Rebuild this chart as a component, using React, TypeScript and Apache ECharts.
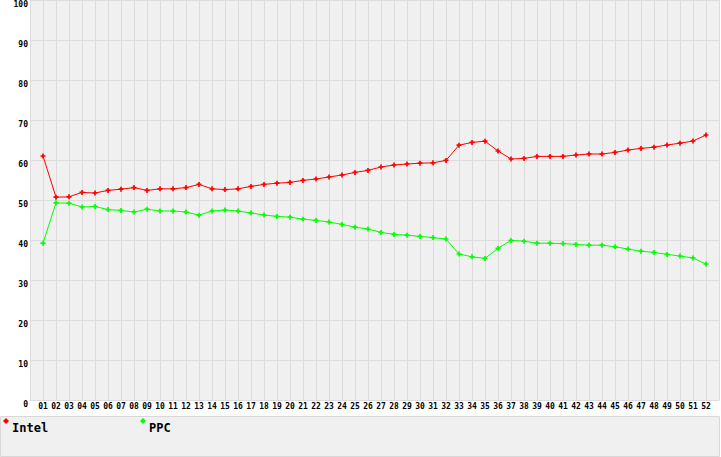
import * as echarts from 'echarts';
import { useEffect, useRef } from 'react';

const weeks = [
  '01', '02', '03', '04', '05', '06', '07', '08', '09', '10',
  '11', '12', '13', '14', '15', '16', '17', '18', '19', '20',
  '21', '22', '23', '24', '25', '26', '27', '28', '29', '30',
  '31', '32', '33', '34', '35', '36', '37', '38', '39', '40',
  '41', '42', '43', '44', '45', '46', '47', '48', '49', '50',
  '51', '52',
];

const intel = [
  61, 50.7, 50.8, 51.9, 51.75, 52.4, 52.7, 53.1, 52.4, 52.8,
  52.8, 53.1, 53.9, 52.8, 52.6, 52.8, 53.4, 53.9, 54.2, 54.4,
  54.9, 55.25, 55.75, 56.25, 56.9, 57.4, 58.25, 58.75, 59, 59.2,
  59.3, 59.9, 63.7, 64.4, 64.7, 62.25, 60.25, 60.4, 60.9, 60.9,
  60.9, 61.25, 61.5, 61.5, 61.9, 62.5, 62.9, 63.2, 63.75, 64.2,
  64.75, 66.25,
];

const ppc = [
  39.2, 49.3, 49.2, 48.25, 48.4, 47.6, 47.4, 47, 47.7, 47.25,
  47.25, 47, 46.2, 47.25, 47.5, 47.25, 46.75, 46.25, 45.9, 45.7,
  45.2, 44.9, 44.5, 43.9, 43.2, 42.75, 41.9, 41.4, 41.2, 40.9,
  40.6, 40.25, 36.5, 35.8, 35.4, 37.9, 39.9, 39.7, 39.2, 39.2,
  39.1, 38.9, 38.7, 38.7, 38.3, 37.75, 37.2, 36.9, 36.4, 36,
  35.5, 34,
];

const yTicks = [0, 10, 20, 30, 40, 50, 60, 70, 80, 90, 100];

const plus = 'path://M2,0H4V2H6V4H4V6H2V4H0V2H2Z';
const gridColor = '#dcdcdc';
const mono = 'DejaVu Sans Mono';

const legendFor = (name: string, left: number) => ({
  data: [name],
  left,
  top: 418,
  padding: 0,
  icon: 'diamond',
  itemWidth: 6,
  itemHeight: 6,
  itemGap: 0,
  formatter: '{t|{name}}',
  textStyle: {
    rich: {
      t: {
        fontFamily: mono,
        fontWeight: 'bold',
        fontSize: 12,
        color: '#000',
        padding: [14, 0, 0, -2],
      },
    },
  },
});

export default function App() {
  const container = useRef<HTMLDivElement | null>(null);

  useEffect(() => {
    if (!container.current) return;
    const chart = echarts.init(container.current, undefined, { renderer: 'svg' });

    const toPoints = (vals: number[]) => vals.map((v, i) => [i + 1, v]);

    chart.setOption({
      animation: false,
      backgroundColor: '#fff',
      grid: { left: 30, right: 2, top: 0, bottom: 57, show: true, backgroundColor: '#f0f0f0', borderWidth: 0 },
      graphic: [
        {
          type: 'rect',
          shape: { x: 0.5, y: 416.5, width: 719, height: 40 },
          style: { fill: '#f0f0f0', stroke: '#d8d8d8', lineWidth: 1 },
          z: -1,
        },
      ],
      legend: [legendFor('Intel', 3), legendFor('PPC', 140)],
      xAxis: {
        type: 'value',
        min: 0,
        max: 53,
        interval: 1,
        axisLine: { show: true, lineStyle: { color: gridColor } },
        axisTick: { show: false },
        splitLine: { show: true, lineStyle: { color: gridColor } },
        axisLabel: {
          margin: 2,
          fontFamily: mono,
          fontSize: 8,
          fontWeight: 'bold',
          color: '#000',
          showMinLabel: false,
          showMaxLabel: false,
          formatter: (v: number) => weeks[v - 1] ?? '',
        },
      },
      yAxis: {
        type: 'value',
        min: yTicks[0],
        max: yTicks[yTicks.length - 1],
        interval: 10,
        axisLine: { show: true, lineStyle: { color: gridColor } },
        axisTick: { show: false },
        splitLine: { show: true, lineStyle: { color: gridColor } },
        axisLabel: {
          margin: 2,
          fontFamily: mono,
          fontSize: 8,
          fontWeight: 'bold',
          color: '#000',
          verticalAlign: 'top',
        },
      },
      series: [
        {
          name: 'Intel',
          type: 'line',
          data: toPoints(intel),
          symbol: plus,
          symbolSize: 5,
          color: '#ff0000',
          lineStyle: { width: 1, color: '#ff0000' },
          itemStyle: { color: '#ff0000' },
        },
        {
          name: 'PPC',
          type: 'line',
          data: toPoints(ppc),
          symbol: plus,
          symbolSize: 5,
          color: '#00ff00',
          lineStyle: { width: 1, color: '#00ff00' },
          itemStyle: { color: '#00ff00' },
        },
      ],
    } as echarts.EChartsOption);

    return () => chart.dispose();
  }, []);

  return (
    <div
      ref={container}
      style={{ position: 'fixed', left: 0, top: 0, width: 721, height: 457 }}
    />
  );
}
